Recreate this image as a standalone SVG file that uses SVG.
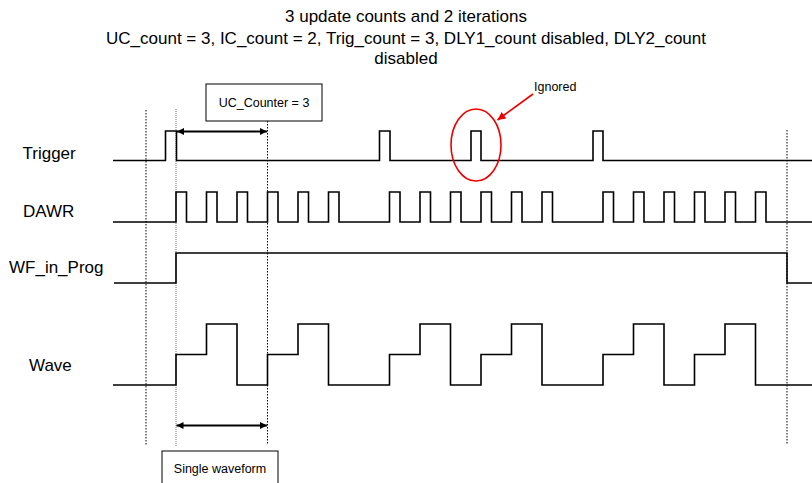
<svg xmlns="http://www.w3.org/2000/svg" width="812" height="483" viewBox="0 0 812 483">
  <style>
    .t{font-family:"Liberation Sans",Arial,sans-serif;fill:#000}
    .title{font-size:17px;text-anchor:middle}
    .lbl{font-size:17px}
    .sm{font-size:12.5px}
    .sig{fill:none;stroke:#000;stroke-width:1.6}
    .dot{fill:none;stroke:#000;stroke-width:1;stroke-dasharray:1.5,1.5}
    .dotg{fill:none;stroke:#888;stroke-width:1.2;stroke-dasharray:1,1}
    .box{fill:#fff;stroke:#000;stroke-width:1}
    .arr{fill:none;stroke:#000;stroke-width:2}
  </style>
  <defs>
    <marker id="ah" viewBox="0 0 10 10" refX="10" refY="5" markerWidth="10" markerHeight="7" markerUnits="userSpaceOnUse" orient="auto-start-reverse">
      <path d="M0,0 L10,5 L0,10 z" fill="#000"/>
    </marker>
    <marker id="ahr" viewBox="0 0 10 10" refX="10" refY="5" markerWidth="12" markerHeight="8" markerUnits="userSpaceOnUse" orient="auto">
      <path d="M0,0 L10,5 L0,10 z" fill="#e00"/>
    </marker>
  </defs>

  <g id="title">
    <text class="t title" x="406" y="22">3 update counts and 2 iterations</text>
    <text class="t title" x="406" y="43.5">UC_count = 3, IC_count = 2, Trig_count = 3, DLY1_count disabled, DLY2_count</text>
    <text class="t title" x="406" y="63.5">disabled</text>
  </g>

  <g id="guides">
    <line class="dot" x1="146" y1="110" x2="146" y2="445"/>
    <line class="dotg" x1="176" y1="109" x2="176" y2="447"/>
    <line class="dot" x1="267.5" y1="121" x2="267.5" y2="445"/>
    <line class="dot" x1="787" y1="130" x2="787" y2="445"/>
  </g>

  <g id="trigger">
    <text class="t lbl" x="22.5" y="158.5">Trigger</text>
    <path class="sig" d="M113,160.5 H165.5 V131 H176.5 V160.5 H379.5 V131 H390 V160.5 H471 V131 H481 V160.5 H593 V131 H603 V160.5 H812"/>
  </g>

  <g id="dawr">
    <text class="t lbl" x="23" y="216.5">DAWR</text>
    <path class="sig" d="M113,222 H176 V192 H186.5 V222 H206.5 V192 H217 V222 H237 V192 H247.5 V222 H267.5 V192 H278 V222 H298 V192 H308.5 V222 H328.5 V192 H339 V222 H389.5 V192 H400 V222 H420 V192 H430.5 V222 H450.5 V192 H461 V222 H481 V192 H491.5 V222 H511.5 V192 H522 V222 H542 V192 H552.5 V222 H603 V192 H613.5 V222 H633.5 V192 H644 V222 H664 V192 H674.5 V222 H694.5 V192 H705 V222 H725 V192 H735.5 V222 H755.5 V192 H766 V222 H812"/>
  </g>

  <g id="wf_in_prog">
    <text class="t lbl" x="9" y="272.5">WF_in_Prog</text>
    <path class="sig" d="M114,283 H176 V253 H787 V283 H812"/>
  </g>

  <g id="wave">
    <text class="t lbl" x="29" y="370.5">Wave</text>
    <path class="sig" d="M113,385 H176 V354.5 H206.5 V324 H237 V385 H267.5 V354.5 H298 V324 H328.5 V385 H389.5 V354.5 H420 V324 H450.5 V385 H481 V354.5 H511.5 V324 H542 V385 H603 V354.5 H633.5 V324 H664 V385 H694.5 V354.5 H725 V324 H755.5 V385 H812"/>
  </g>

  <g id="uc_counter">
    <rect class="box" x="206" y="84" width="116" height="37"/>
    <text class="t sm" x="264" y="106.5" text-anchor="middle">UC_Counter = 3</text>
  </g>

  <g id="single_waveform">
    <rect class="box" x="162" y="451" width="116" height="40"/>
    <text class="t sm" x="220" y="472.5" text-anchor="middle">Single waveform</text>
  </g>

  <g id="ignored">
    <ellipse cx="476" cy="145" rx="25" ry="36" fill="none" stroke="#e00" stroke-width="1.6"/>
    <text class="t sm" x="534" y="90.5">Ignored</text>
  </g>

  <g id="connectors">
    <line class="arr" x1="177" y1="131.5" x2="267" y2="131.5" marker-start="url(#ah)" marker-end="url(#ah)"/>
    <line class="arr" x1="176.5" y1="425.5" x2="267" y2="425.5" marker-start="url(#ah)" marker-end="url(#ah)"/>
    <line x1="533" y1="94" x2="497.5" y2="120" stroke="#e00" stroke-width="1.6" marker-end="url(#ahr)"/>
  </g>
</svg>
